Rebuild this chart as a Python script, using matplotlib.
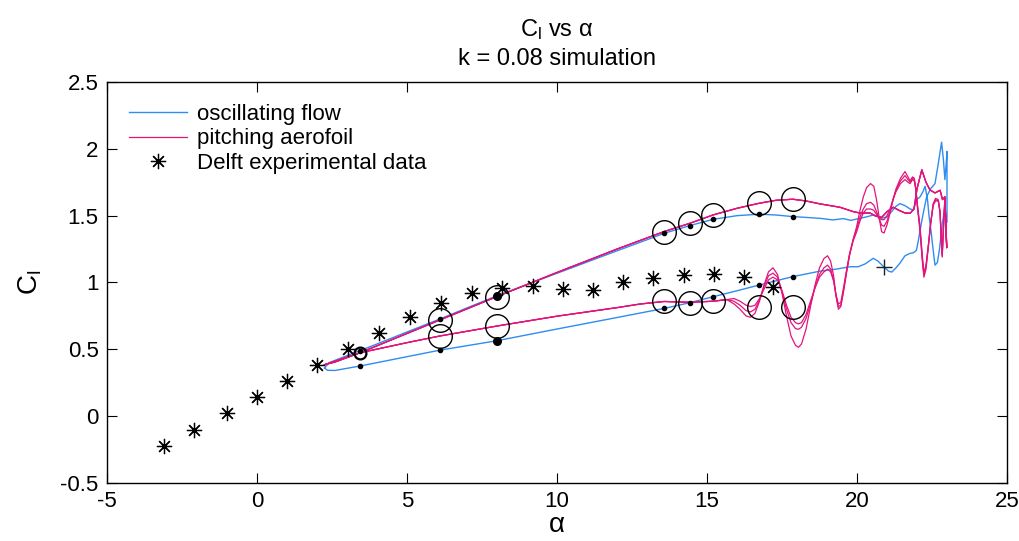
import numpy as np
import matplotlib
matplotlib.use("Agg")
import matplotlib.pyplot as plt
from matplotlib.ticker import FormatStrFormatter, MultipleLocator

# ------------------------------------------------------------------
# Style
# ------------------------------------------------------------------
plt.rcParams["font.family"] = ["Liberation Sans", "DejaVu Sans"]
plt.rcParams["mathtext.fontset"] = "custom"
plt.rcParams["mathtext.rm"] = "Liberation Sans"
plt.rcParams["mathtext.it"] = "Liberation Sans:italic"
plt.rcParams["axes.unicode_minus"] = False

c_blue = "#2F8CF0"
c_pink = "#E2147C"

# ------------------------------------------------------------------
# Data
# ------------------------------------------------------------------
# Delft experimental data
exp_alpha = [-3.1, -2.1, -1.0, 0.0, 1.0, 2.0, 3.05, 4.07, 5.1, 6.13, 7.16,
             8.18, 9.21, 10.19, 11.19, 12.19, 13.21, 14.24, 15.23, 16.24, 17.21]
exp_cl = [-0.22, -0.10, 0.02, 0.14, 0.26, 0.38, 0.50, 0.62, 0.74, 0.85, 0.92,
          0.96, 0.977, 0.951, 0.944, 1.006, 1.03, 1.056, 1.061, 1.043, 0.969]

# oscillating flow: lower branch (alpha increasing)
osc_low_alpha = [2.25, 2.35, 2.6, 3.43, 6.1, 7.99, 10.0, 12.0, 13.57, 14.43,
                 15.21, 16.1, 16.74, 17.86, 18.77, 19.3, 19.77, 20.04, 20.27,
                 20.54, 20.7, 20.88, 21.05, 21.16, 21.3, 21.43, 21.6, 21.77,
                 21.88, 21.98, 22.05, 22.15, 22.21, 22.32, 22.45, 22.6, 22.71,
                 22.82, 22.88, 22.93, 22.97, 23.0]
osc_low_cl = [0.36, 0.343, 0.342, 0.375, 0.494, 0.564, 0.652, 0.738, 0.806,
              0.849, 0.894, 0.944, 0.981, 1.044, 1.085, 1.10, 1.118, 1.118,
              1.139, 1.181, 1.16, 1.12, 1.085, 1.078, 1.11, 1.144, 1.20, 1.218,
              1.223, 1.24, 1.32, 1.45, 1.52, 1.64, 1.70, 1.74, 1.89, 2.05,
              1.92, 1.77, 1.88, 1.98]
# oscillating flow: upper branch (alpha decreasing)
osc_up_alpha = [23.0, 22.92, 22.85, 22.75, 22.68, 22.6, 22.54, 22.47, 22.4,
                22.35, 22.27, 22.2, 22.1, 21.99, 21.88, 21.77, 21.6, 21.43,
                21.3, 21.15, 21.0, 20.8, 20.54, 20.3, 20.1, 19.8, 19.54, 19.2,
                18.77, 18.3, 17.86, 17.3, 16.74, 16.0, 15.21, 14.43, 13.57,
                13.0, 12.0, 11.0, 10.0, 9.0, 7.99, 7.0, 6.1, 5.0, 4.0, 3.43,
                2.8, 2.4, 2.25]
osc_up_cl = [1.45, 1.55, 1.45, 1.25, 1.15, 1.13, 1.24, 1.38, 1.50, 1.62, 1.72,
             1.68, 1.64, 1.62, 1.543, 1.55, 1.575, 1.59, 1.57, 1.53, 1.49,
             1.48, 1.505, 1.49, 1.48, 1.465, 1.478, 1.468, 1.48, 1.487, 1.493,
             1.505, 1.511, 1.50, 1.473, 1.426, 1.368, 1.32, 1.237, 1.153,
             1.069, 0.985, 0.90, 0.81, 0.727, 0.63, 0.54, 0.49, 0.435, 0.40,
             0.36]

# pitching aerofoil: common part of lower branch
pit_low_alpha = [2.25, 2.6, 3.43, 5.0, 6.1, 7.99, 10.0, 12.0, 12.77, 13.57,
                 14.43, 15.21, 15.66]
pit_low_cl = [0.385, 0.405, 0.474, 0.55, 0.60, 0.674, 0.748, 0.812, 0.839,
              0.858, 0.852, 0.86, 0.872]
# pitching aerofoil: three cycles through the stall region
pit_stall_alpha = [15.9, 16.1, 16.3, 16.45, 16.6, 16.75, 16.9, 17.05, 17.2,
                   17.35, 17.5, 17.65, 17.8, 17.95, 18.05, 18.15, 18.3, 18.45,
                   18.6, 18.75, 18.9, 19.02, 19.12, 19.22, 19.3, 19.38, 19.46,
                   19.55, 19.65, 19.75, 19.87, 19.99, 20.1, 20.21, 20.32,
                   20.45, 20.56, 20.65, 20.75, 20.82, 20.9, 21.0, 21.1, 21.2,
                   21.3, 21.45, 21.6, 21.7, 21.77, 21.85, 21.91, 21.96, 22.02,
                   22.1, 22.17, 22.23, 22.3, 22.38, 22.46, 22.54, 22.62, 22.71,
                   22.77, 22.81, 22.84, 22.88, 22.93, 22.96, 22.99]
pit_a_cl = [0.84, 0.80, 0.75, 0.74, 0.77, 0.86, 0.98, 1.08, 1.11,
            1.06, 0.92, 0.75, 0.60, 0.53, 0.515, 0.54, 0.65, 0.82, 0.98,
            1.11, 1.18, 1.20, 1.16, 1.05, 0.90, 0.80, 0.82, 0.93, 1.07,
            1.20, 1.32, 1.42, 1.54, 1.64, 1.71, 1.74, 1.72, 1.62, 1.47,
            1.38, 1.37, 1.43, 1.52, 1.62, 1.70, 1.78, 1.83, 1.79, 1.76,
            1.79, 1.78, 1.70, 1.55, 1.39, 1.18, 1.04, 1.10, 1.27, 1.45,
            1.59, 1.63, 1.62, 1.52, 1.30, 1.19, 1.40, 1.64, 1.45, 1.26]
pit_b_cl = [0.86, 0.83, 0.79, 0.78, 0.80, 0.87, 0.97, 1.05, 1.07,
            1.04, 0.93, 0.80, 0.70, 0.655, 0.65, 0.665, 0.73, 0.84, 0.96,
            1.06, 1.11, 1.13, 1.10, 1.02, 0.90, 0.82, 0.83, 0.94, 1.08,
            1.21, 1.32, 1.40, 1.49, 1.55, 1.59, 1.60, 1.58, 1.53, 1.47,
            1.43, 1.42, 1.46, 1.53, 1.62, 1.69, 1.76, 1.80, 1.77, 1.75,
            1.78, 1.77, 1.70, 1.56, 1.40, 1.20, 1.06, 1.12, 1.28, 1.45,
            1.58, 1.62, 1.61, 1.52, 1.31, 1.20, 1.40, 1.63, 1.46, 1.27]
pit_c_cl = [0.88, 0.86, 0.83, 0.82, 0.83, 0.88, 0.95, 1.02, 1.04,
            1.02, 0.94, 0.83, 0.74, 0.70, 0.69, 0.70, 0.76, 0.86, 0.96,
            1.04, 1.08, 1.10, 1.08, 1.01, 0.91, 0.84, 0.85, 0.96, 1.09,
            1.21, 1.31, 1.38, 1.46, 1.52, 1.55, 1.55, 1.54, 1.51, 1.48,
            1.47, 1.47, 1.50, 1.55, 1.62, 1.68, 1.74, 1.77, 1.75, 1.74,
            1.77, 1.76, 1.70, 1.57, 1.42, 1.22, 1.07, 1.13, 1.28, 1.45,
            1.58, 1.61, 1.61, 1.53, 1.32, 1.21, 1.40, 1.62, 1.47, 1.28]
# pitching aerofoil: upper branch (alpha decreasing)
pit_up_alpha = [22.99, 22.93, 22.85, 22.77, 22.6, 22.43, 22.3, 22.16, 22.0,
                21.9, 21.77, 21.6, 21.4, 21.21, 21.0, 20.82, 20.6, 20.43, 20.1,
                19.88, 19.43, 18.77, 18.3, 17.86, 17.3, 16.74, 16.0, 15.21,
                14.43, 13.57, 12.0, 10.0, 7.99, 6.1, 3.43, 2.25]
pit_up_cl = [1.26, 1.64, 1.62, 1.69, 1.67, 1.693, 1.75, 1.843, 1.70, 1.55,
             1.518, 1.52, 1.54, 1.563, 1.53, 1.487, 1.50, 1.52, 1.52, 1.53,
             1.563, 1.588, 1.61, 1.623, 1.615, 1.593, 1.555, 1.506, 1.443,
             1.381, 1.25, 1.075, 0.894, 0.72, 0.474, 0.385]

# marked instants: circles on pitching, dots on oscillating
circ_alpha = [6.1, 6.1, 7.99, 7.99, 13.57, 14.43, 15.21, 16.74, 17.86,
              13.57, 14.43, 15.21, 16.74, 17.86]
circ_cl = [0.72, 0.60, 0.894, 0.674, 1.381, 1.443, 1.506, 1.593, 1.623,
           0.864, 0.849, 0.861, 0.819, 0.819]
small_circ_alpha = [3.43]
small_circ_cl = [0.474]
dot_alpha = [3.43, 3.43, 6.1, 6.1, 13.57, 14.43, 15.21, 16.74, 17.86,
             13.57, 14.43, 15.21, 16.74, 17.86]
dot_cl = [0.375, 0.487, 0.727, 0.494, 1.368, 1.426, 1.473, 1.511, 1.493,
          0.806, 0.849, 0.894, 0.981, 1.044]
big_dot_alpha = [7.99, 7.99]
big_dot_cl = [0.90, 0.564]
plus_alpha = [20.91]
plus_cl = [1.118]

# ------------------------------------------------------------------
# Plot
# ------------------------------------------------------------------
fig = plt.figure(figsize=(10.2, 5.41), dpi=100)
ax = fig.add_axes([107 / 1020, 58 / 541, 900 / 1020, 401 / 541])

ax.plot(osc_low_alpha + osc_up_alpha, osc_low_cl + osc_up_cl,
        color=c_blue, lw=1.0, label="oscillating flow")
for i, pc in enumerate([pit_a_cl, pit_b_cl, pit_c_cl]):
    ax.plot(pit_low_alpha + pit_stall_alpha + pit_up_alpha,
            pit_low_cl + pc + pit_up_cl,
            color=c_pink, lw=0.9,
            label="pitching aerofoil" if i == 0 else None)
ax.plot(exp_alpha, exp_cl, ls="none", marker=(8, 2, 0), ms=11, mew=0.9,
        color="k", label="Delft experimental data")

ax.plot(circ_alpha, circ_cl, ls="none", marker="o", ms=17, mfc="none",
        mec="k", mew=1.0)
ax.plot(small_circ_alpha, small_circ_cl, ls="none", marker="o", ms=8.5,
        mfc="none", mec="k", mew=1.6)
ax.plot(dot_alpha, dot_cl, ls="none", marker="o", ms=3, color="k")
ax.plot(big_dot_alpha, big_dot_cl, ls="none", marker="o", ms=5.5, color="k")
ax.plot(plus_alpha, plus_cl, ls="none", marker="+", ms=11, mew=1.0,
        color="#202020")

ax.set_xlim(-5, 25)
ax.set_ylim(-0.5, 2.5)
ax.xaxis.set_major_locator(MultipleLocator(5))
ax.yaxis.set_major_locator(MultipleLocator(0.5))
ax.xaxis.set_major_formatter(FormatStrFormatter("%g"))
ax.yaxis.set_major_formatter(FormatStrFormatter("%g"))
ax.tick_params(direction="in", length=7, width=0.8, top=True, right=True,
               labelsize=16, pad=6)
for s in ax.spines.values():
    s.set_linewidth(1.0)

ax.set_xlabel("α", fontsize=20, labelpad=0)
ax.set_ylabel("C$_{\\rm l}$", fontsize=20, labelpad=12)
ax.set_title("C$_{\\rm l}$ vs α\nk = 0.08 simulation", fontsize=17,
             pad=12, linespacing=1.35)

ax.legend(loc="upper left", frameon=False, fontsize=16, numpoints=1,
          handlelength=2.65, handletextpad=0.45, labelspacing=0.17,
          borderaxespad=0.57, bbox_to_anchor=(0.0, 1.0))

fig.savefig("out.png", dpi=100)
